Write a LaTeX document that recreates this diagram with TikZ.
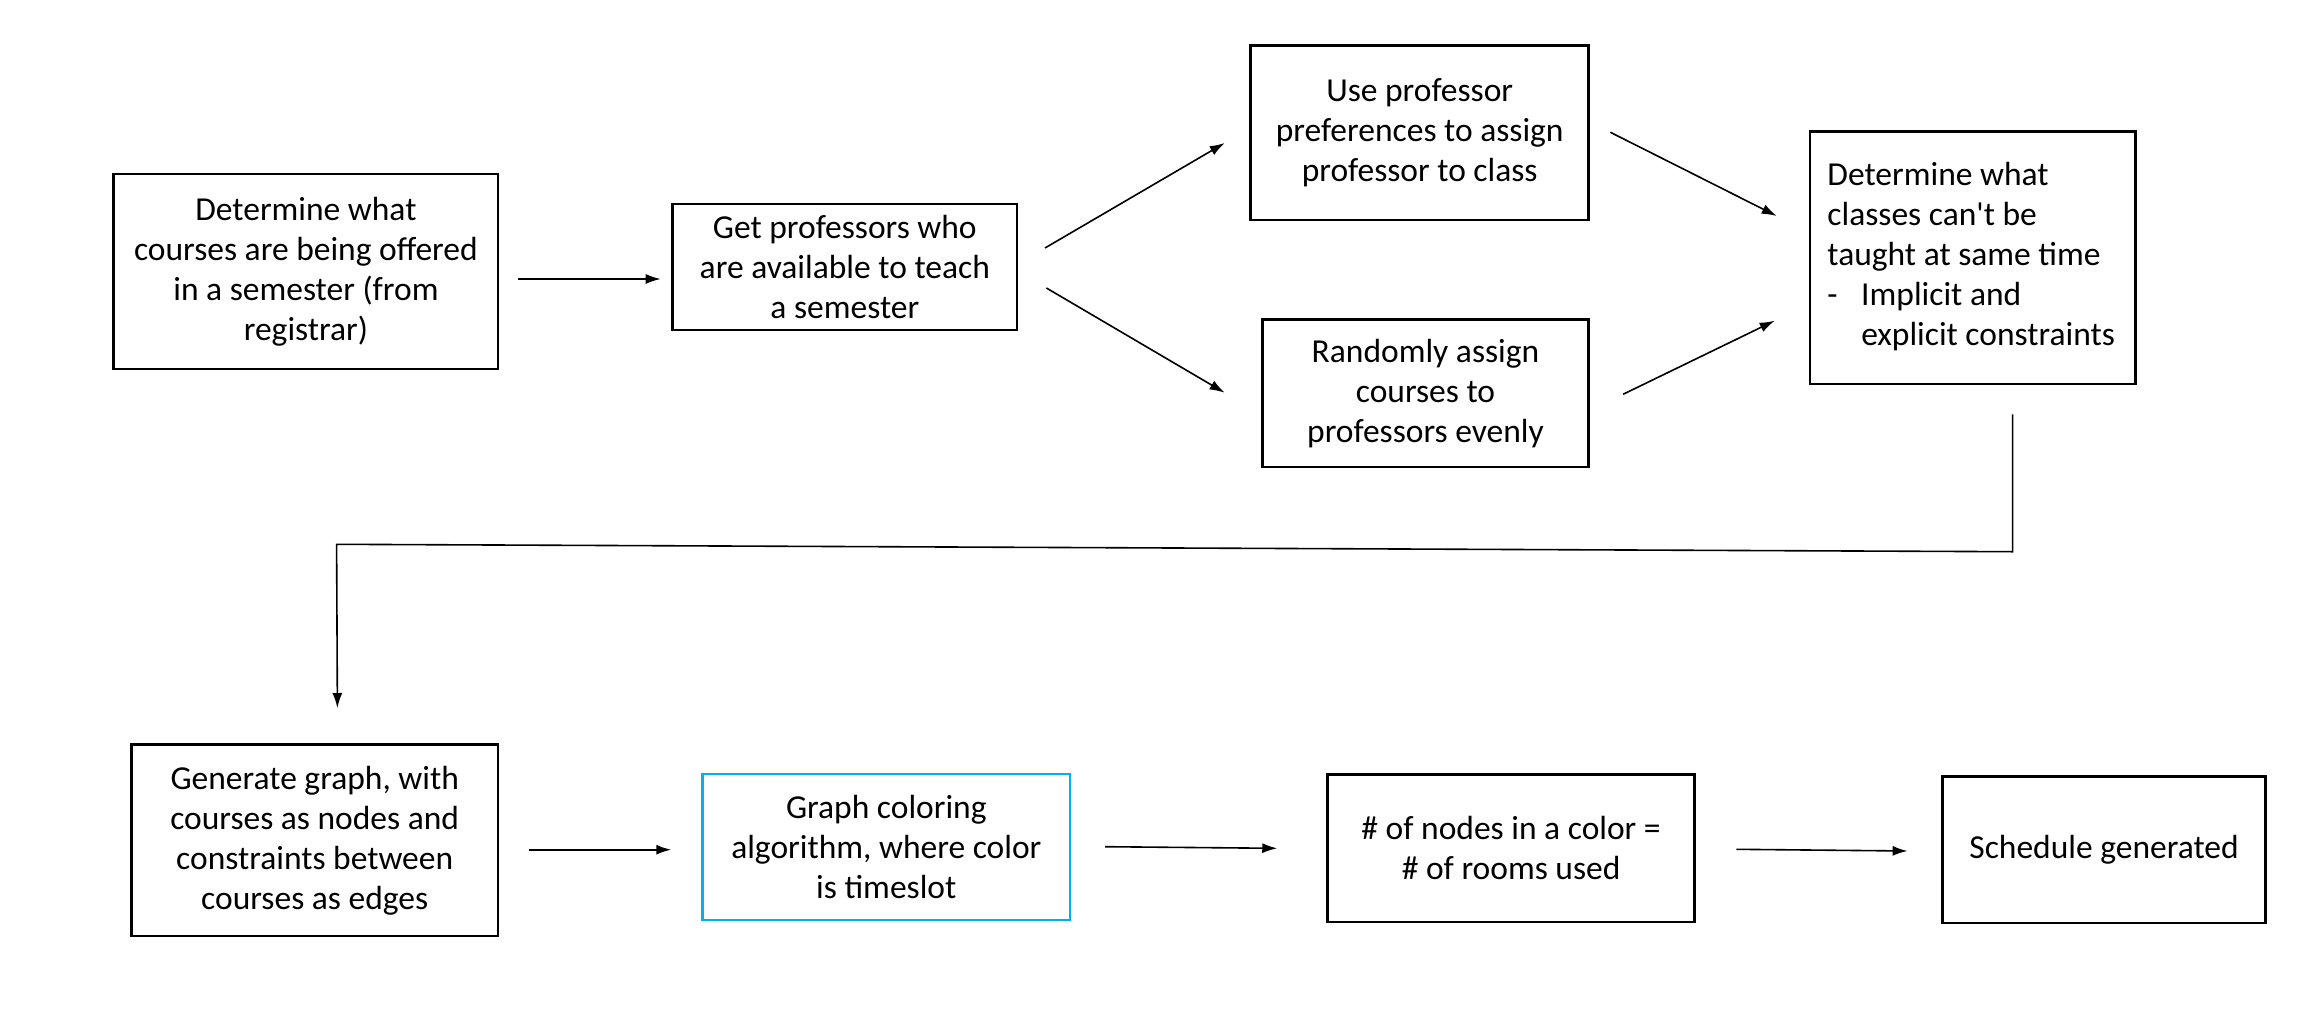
\documentclass[tikz,border=0pt]{standalone}
\usepackage{fontspec}
\setmainfont{Carlito}
\usetikzlibrary{arrows.meta}
\definecolor{boxblue}{RGB}{0,176,240}
\begin{document}
\begin{tikzpicture}[x=1pt,y=-1pt,
  box/.style={draw=black,line width=2.7pt,rectangle,inner sep=0pt,align=center,
    font=\fontsize{33.5}{40}\selectfont},
  conn/.style={line width=1.6pt,-{Latex[length=15pt,width=10pt]}},
  line/.style={line width=1.6pt}]
\useasboundingbox[fill=white] (0,0) rectangle (2302,1017);
\node[box,minimum width=384.3pt,minimum height=195pt] (b1) at (305.9,271.5)
  {Determine what\\courses are being offered\\in a semester (from\\registrar)};
\node[box,minimum width=344.5pt,minimum height=126pt] (b2) at (844.8,267)
  {Get professors who\\are available to teach\\a semester};
\node[box,minimum width=337.9pt,minimum height=174.3pt] (b3) at (1419.7,132.9)
  {Use professor\\preferences to assign\\professor to class};
\node[box,minimum width=326.2pt,minimum height=147.7pt] (b4) at (1425.5,393.2)
  {Randomly assign\\courses to\\professors evenly};
\node[box,inner xsep=17.6pt,minimum width=325.5pt,minimum height=252.3pt] (b5) at (1972.6,257.9)
  {\makebox[290.3pt][l]{\begin{tabular}{@{}l@{}}Determine what\\classes can\textquotesingle t be\\taught at same time\\\makebox[33.8pt][l]{-}Implicit and\\\hspace*{33.8pt}explicit constraints\end{tabular}}};
\node[box,minimum width=366.7pt,minimum height=191.3pt] (b6) at (314.7,840.4)
  {Generate graph, with\\courses as nodes and\\constraints between\\courses as edges};
\node[box,draw=boxblue,line width=2.5pt,minimum width=367.4pt,minimum height=146.3pt] (b7) at (886.3,846.9)
  {Graph coloring\\algorithm, where color\\is timeslot};
\node[box,minimum width=366.6pt,minimum height=147.3pt] (b8) at (1511.1,848.4)
  {\# of nodes in a color =\\\# of rooms used};
\node[box,minimum width=322.5pt,minimum height=146.3pt] (b9) at (2104,849.9)
  {Schedule generated};
\coordinate (c1) at (2012.6,551.7);
\coordinate (c2) at (336.6,544.3);
\draw[conn] ([shift={(19,7.5)}]b1.east) -- ([shift={(-10.5,12)}]b2.west);
\draw[conn] ([shift={(26.6,-19)}]b2.east) -- ([shift={(-24.7,10.1)}]b3.west);
\draw[conn] ([shift={(28,21)}]b2.east) -- ([shift={(-36.4,-0.5)}]b4.west);
\draw[conn] ([shift={(20.4,-0.6)}]b3.east) -- ([shift={(-31.8,-41.9)}]b5.west);
\draw[conn] ([shift={(33.1,1.1)}]b4.east) -- ([shift={(-33.8,62.8)}]b5.west);
\draw[conn] ([shift={(40,29)}]b5.south) -- (c1) -- (c2) -- ([shift={(22.7,-35.4)}]b6.north);
\draw[conn] ([shift={(30,9.3)}]b6.east) -- ([shift={(-30.1,2.8)}]b7.west);
\draw[conn] ([shift={(33.8,-0.2)}]b7.east) -- ([shift={(-49.2,-0.1)}]b8.west);
\draw[conn] ([shift={(40.5,0.9)}]b8.east) -- ([shift={(-33.8,1.1)}]b9.west);
\end{tikzpicture}
\end{document}
